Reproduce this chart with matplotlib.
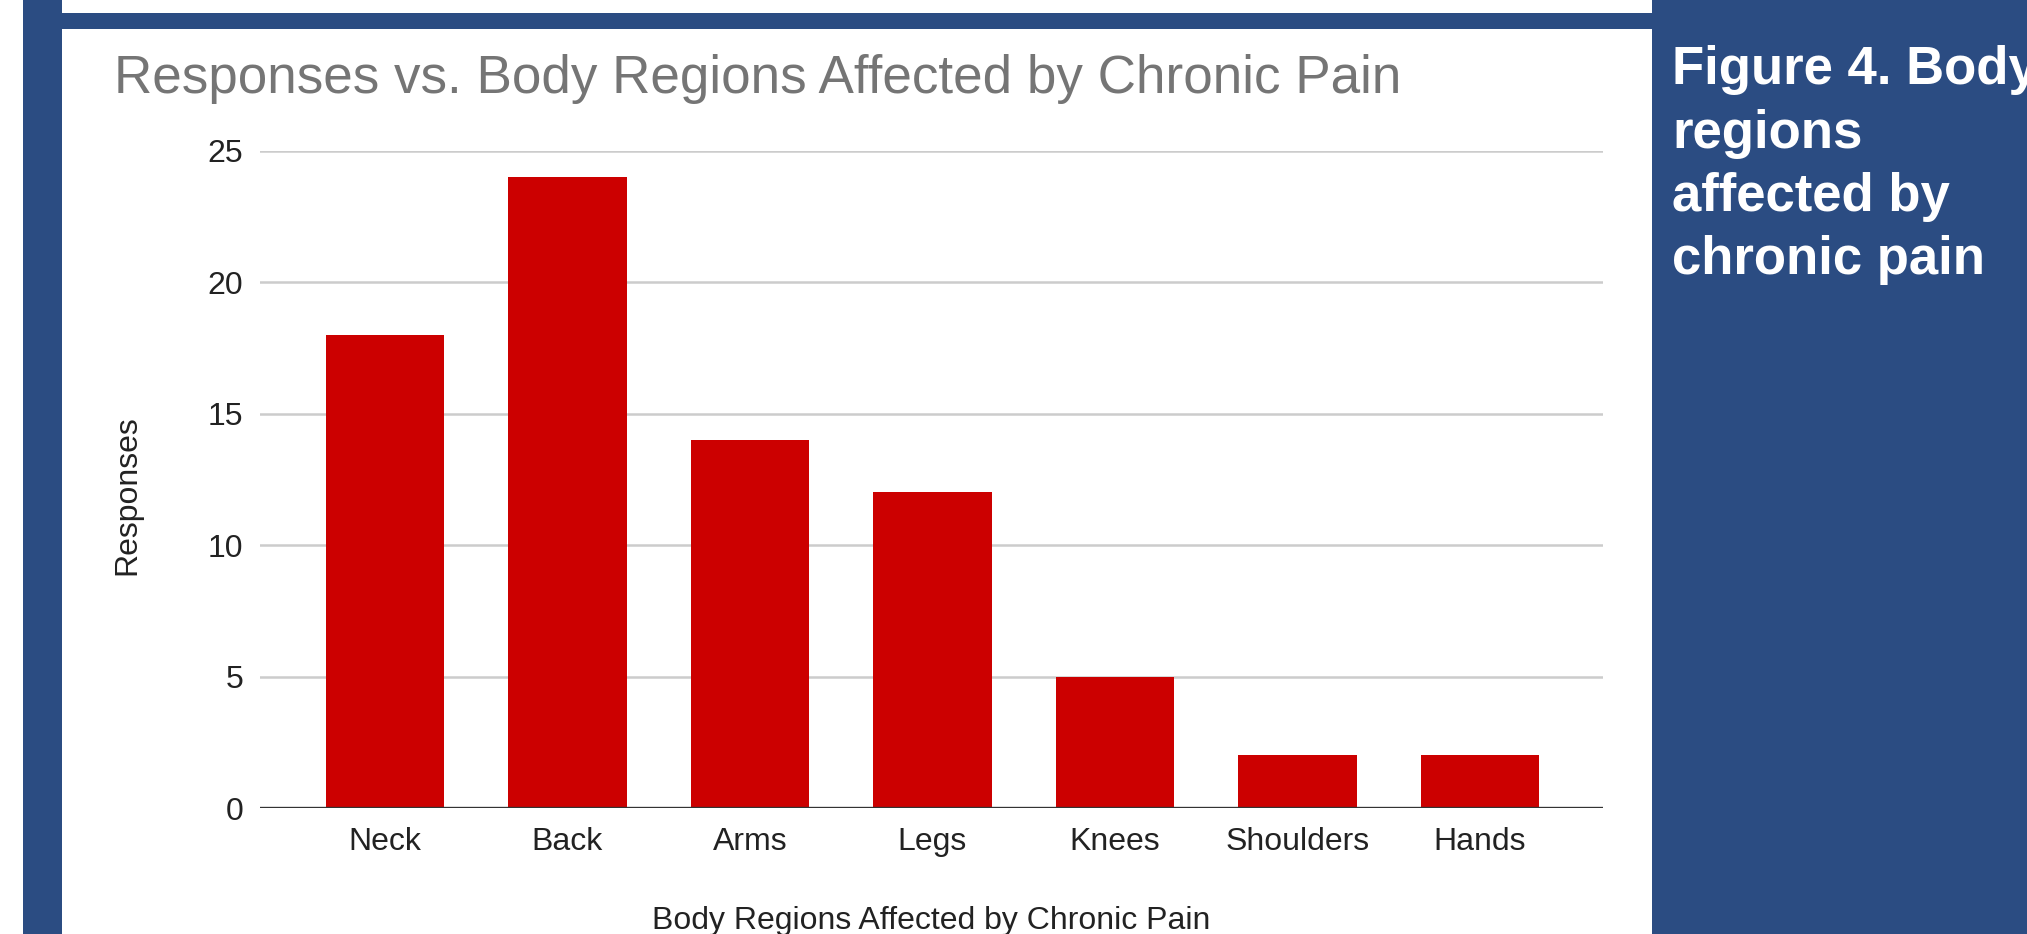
import matplotlib
matplotlib.use("Agg")
import matplotlib.pyplot as plt
from matplotlib.patches import Rectangle

plt.rcParams['font.family'] = ['Liberation Sans', 'DejaVu Sans']

categories = ["Neck", "Back", "Arms", "Legs", "Knees", "Shoulders", "Hands"]
responses = [18, 24, 14, 12, 5, 2, 2]
yticks = [0, 5, 10, 15, 20, 25]
side_lines = ["Figure 4. Body", "regions", "affected by", "chronic pain"]

W, H = 2027, 934
fig = plt.figure(figsize=(W / 100, H / 100), dpi=100)
fig.patch.set_facecolor("white")

blue = "#2b4c82"
# background blue frame
fig.add_artist(Rectangle((23 / W, 0), (62 - 23) / W, 1, transform=fig.transFigure,
                         facecolor=blue, edgecolor="none", zorder=0))
fig.add_artist(Rectangle((62 / W, 1 - 29 / H), (1652 - 62) / W, (29 - 13) / H,
                         transform=fig.transFigure, facecolor=blue, edgecolor="none", zorder=0))
fig.add_artist(Rectangle((1652 / W, 0), (W - 1652) / W, 1, transform=fig.transFigure,
                         facecolor=blue, edgecolor="none", zorder=0))

ax = fig.add_axes([260 / W, 1 - 808 / H, (1603 - 260) / W, (808 - 150.7) / H])
ax.set_facecolor("white")
x = list(range(len(categories)))
ax.bar(x, responses, width=0.65, color="#cc0000", zorder=3)
ax.set_xlim(-0.685, 6.675)
ax.set_ylim(0, 25)
ax.set_yticks(yticks)
ax.set_xticks(x)
ax.set_xticklabels(categories)
ax.grid(axis="y", color="#cccccc", linewidth=1.8, zorder=0)
ax.axhline(0, color="#333333", linewidth=2.4, zorder=4)
for s in ax.spines.values():
    s.set_visible(False)
ax.tick_params(axis="both", length=0, labelsize=23, colors="#222222")
ax.tick_params(axis="y", pad=12)
ax.tick_params(axis="x", pad=14)

fig.text(114 / W, 1 - 93 / H, "Responses vs. Body Regions Affected by Chronic Pain",
         fontsize=38.2, color="#757575", ha="left", va="baseline")
fig.text(127 / W, 1 - 495 / H, "Responses", rotation=90, fontsize=23, color="#222222",
         ha="center", va="center")
fig.text(931 / W, 1 - 921 / H, "Body Regions Affected by Chronic Pain", fontsize=23,
         color="#222222", ha="center", va="center")

baselines = [84, 148, 211, 274]
for line, yb in zip(side_lines, baselines):
    fig.text(1672 / W, 1 - yb / H, line, fontsize=38, fontweight="bold", color="white",
             ha="left", va="baseline")
fig.savefig("out.png", dpi=100, facecolor="white")
